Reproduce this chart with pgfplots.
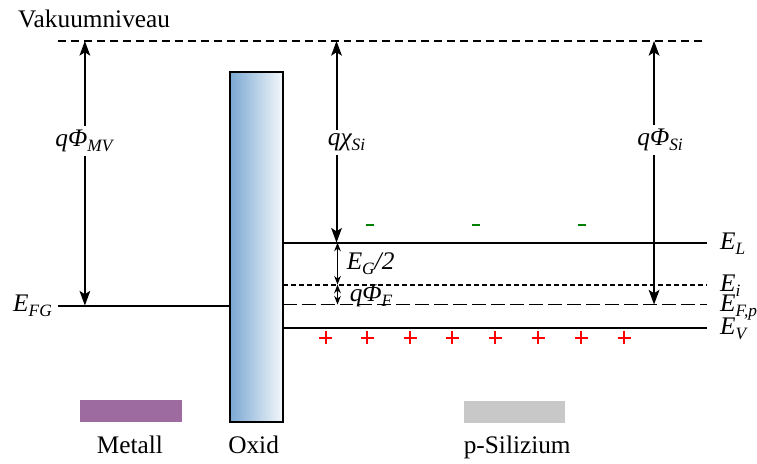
\documentclass[border=0pt]{standalone}
\usepackage{fontspec}
\setmainfont{Liberation Serif}
\newfontfamily\tnr{Liberation Serif}
\usepackage{pgfplots}
\pgfplotsset{compat=1.18}
\usetikzlibrary{arrows.meta}
\definecolor{oxL}{RGB}{122,168,210}
\definecolor{oxR}{RGB}{243,247,251}
\definecolor{metal}{RGB}{158,107,160}
\definecolor{si}{RGB}{200,200,200}
\definecolor{dgreen}{RGB}{0,128,0}
\definecolor{pred}{RGB}{255,0,0}
\newcommand\sub[1]{\raisebox{-3.6pt}{\fontsize{13}{13}\selectfont #1}}
\tikzset{barr/.style={{Stealth[length=11pt,width=8pt,inset=2.5pt]}-{Stealth[length=11pt,width=8pt,inset=2.5pt]}},
 sarr/.style={{Stealth[length=6.5pt,width=5pt]}-{Stealth[length=6.5pt,width=5pt]}}}
\begin{document}
\tnr
\begin{tikzpicture}[font=\tnr]
\begin{axis}[scale only axis, width=567.75pt, height=345.75pt,
  xmin=0, xmax=757, ymin=0, ymax=461, y dir=reverse, hide axis, clip=false,
  font=\tnr\fontsize{19}{21}\selectfont]
\path (axis cs:0,0) rectangle (axis cs:757,461);
% vacuum level
\addplot[black, line width=1.3pt, dash pattern=on 6pt off 3.75pt] coordinates {(58,41)(708,41)};
% metal Fermi level
\addplot[black, line width=1.5pt] coordinates {(58,306)(230,306)};
% silicon bands
\addplot[black, line width=1.5pt] coordinates {(283,243)(708,243)};
\addplot[black, line width=1.4pt, dash pattern=on 3.75pt off 2.25pt] coordinates {(283,285)(708,285)};
\addplot[black, line width=1.4pt, dash pattern=on 10.5pt off 3.75pt] coordinates {(283,305)(708,305)};
\addplot[black, line width=1.5pt] coordinates {(283,328)(708,328)};
% oxide
\addplot[draw=black, line width=1.5pt, left color=oxL, right color=oxR] coordinates {(230,72)(283,72)(283,423)(230,423)} -- cycle;
% big arrows
\addplot[black, line width=1.5pt, barr] coordinates {(85,41)(85,306)};
\addplot[black, line width=1.5pt, barr] coordinates {(337,41)(337,243)};
\addplot[black, line width=1.5pt, barr] coordinates {(655,41)(655,305)};
% small arrows
\addplot[black, line width=1.1pt, sarr] coordinates {(338,243)(338,285)};
\addplot[black, line width=1.1pt, sarr] coordinates {(338,285)(338,305)};
% charges
\addplot[only marks, mark=-, mark size=3pt, draw=dgreen, mark options={draw=dgreen, line width=1.4pt}] coordinates {(371,225)(477,225)(583,225)};
\addplot[only marks, mark=+, mark size=4.9pt, draw=pred, mark options={draw=pred, line width=1.5pt}] coordinates {(326,338)(368,338)(411,338)(453,338)(496,338)(539,338)(582,338)(625,338)};
% legend boxes
\addplot[draw=none, fill=metal] coordinates {(80,401)(182,401)(182,423)(80,423)} -- cycle;
\addplot[draw=none, fill=si] coordinates {(465,402)(566,402)(566,424)(465,424)} -- cycle;
% labels
\node[anchor=base west, inner sep=0pt] at (axis cs:18,28) {Vakuumniveau};
\node[fill=white, anchor=base, inner sep=3pt] at (axis cs:84,147) {\itshape qΦ\sub{MV}};
\node[fill=white, anchor=base, inner sep=3pt] at (axis cs:347,146) {\itshape qχ\sub{Si}};
\node[fill=white, anchor=base, inner sep=3pt] at (axis cs:661,146) {\itshape qΦ\sub{Si}};
\node[anchor=base west, inner sep=0pt] at (axis cs:13,312) {\itshape E\sub{FG}};
\node[anchor=base west, inner sep=0pt] at (axis cs:721,250) {\itshape E\sub{L}};
\node[anchor=base west, inner sep=0pt] at (axis cs:721,292) {\itshape E\sub{i}};
\node[anchor=base west, inner sep=0pt] at (axis cs:721,312) {\itshape E\sub{F,p}};
\node[anchor=base west, inner sep=0pt] at (axis cs:721,335) {\itshape E\sub{V}};
\node[anchor=base west, inner sep=0pt] at (axis cs:347,270) {\itshape E\sub{G}/2};
\node[anchor=base west, inner sep=0pt] at (axis cs:350,302) {\itshape qΦ\sub{F}};
\node[anchor=base] at (axis cs:130,454) {Metall};
\node[anchor=base] at (axis cs:254,454) {Oxid};
\node[anchor=base] at (axis cs:518,454) {p-Silizium};
\end{axis}
\end{tikzpicture}
\end{document}
